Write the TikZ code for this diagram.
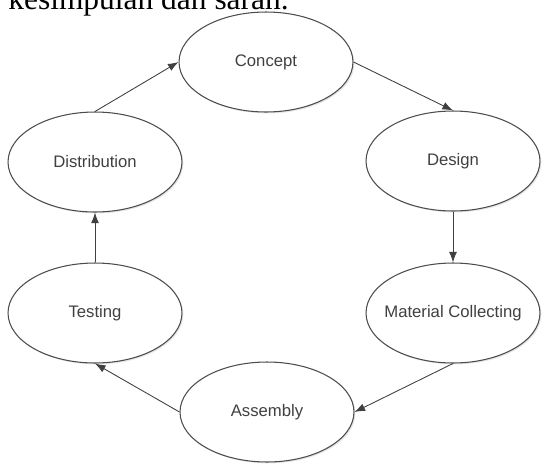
\documentclass[tikz,border=0pt]{standalone}
\usepackage{fontspec}
\setsansfont{Liberation Sans}
\newfontfamily\headfont{Liberation Serif}
\usetikzlibrary{positioning}
\usetikzlibrary{shapes.geometric}
\usetikzlibrary{arrows.meta}
\usetikzlibrary{shadows}
\pgfdeclarelayer{nodelayer}
\pgfdeclarelayer{edgelayer}
\pgfsetlayers{nodelayer,edgelayer,main}
\tikzset{
    none/.style = {inner sep=0pt},
    stage/.style = {ellipse, draw=black!70, fill=white, line width=0.6pt,
        minimum width=3.48cm, minimum height=2cm, inner sep=0pt,
        text=black!75, font=\sffamily\fontsize{9.5}{11}\selectfont,
        drop shadow={opacity=0.2, shadow xshift=0.8pt, shadow yshift=-0.8pt}},
    flow/.style = {-{Latex[length=6pt, width=4.5pt]}, draw=black!75, line width=0.5pt}
}
\begin{document}
\begin{tikzpicture}[x=0.02cm, y=-0.02cm]
    % page size of the scanned figure
    \useasboundingbox (0,0) rectangle (542,464);

    \begin{pgfonlayer}{nodelayer}
        \node [style=none, anchor=base west] (0) at (8, 9) {\headfont\fontsize{17.9}{20}\selectfont kesimpulan dan saran.};
        \node [style=stage] (1) at (266, 62) {Concept};
        \node [style=stage] (2) at (453, 161) {Design};
        \node [style=stage, inner xsep=-5pt] (3) at (453, 313) {Material Collecting};
        \node [style=stage] (4) at (267, 412) {Assembly};
        \node [style=stage] (5) at (95, 313) {Testing};
        \node [style=stage] (6) at (95, 162) {Distribution};
    \end{pgfonlayer}
    \begin{pgfonlayer}{edgelayer}
        \draw [style=flow] (1.east) to (2.north);
        \draw [style=flow] (2.south) to (3.north);
        \draw [style=flow] (3.south) to (4.east);
        \draw [style=flow] (4.west) to (5.south);
        \draw [style=flow] (5.north) to (6.south);
        \draw [style=flow] (6.north) to (1.west);
    \end{pgfonlayer}
\end{tikzpicture}
\end{document}
